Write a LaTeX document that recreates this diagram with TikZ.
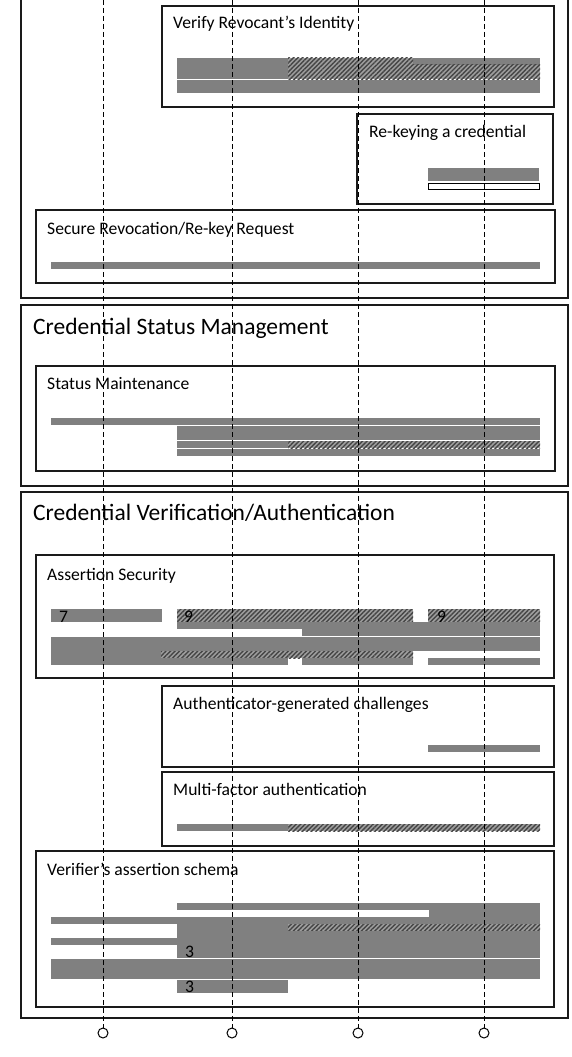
\documentclass[tikz,border=0pt]{standalone}
\usepackage{fontspec}
\setmainfont{Carlito}
\usetikzlibrary{patterns.meta}
\definecolor{barGray}{HTML}{808080}
\definecolor{hatchBg}{HTML}{9E9E9E}
\definecolor{hatchFg}{HTML}{454545}
\definecolor{frameCol}{HTML}{1A1A1A}
\begin{document}
\begin{tikzpicture}[x=1pt,y=-1pt,
  frame/.style={draw=frameCol, line width=1.1pt},
  solidbar/.style={fill=barGray},
  hatchbar/.style={fill=hatchBg, postaction={pattern={Lines[angle=45,distance=3.2pt,line width=1.4pt]}, pattern color=hatchFg}},
  lbl/.style={anchor=base west, inner sep=0pt, font=\fontsize{17.6}{20}\selectfont},
  ttl/.style={anchor=base west, inner sep=0pt, font=\fontsize{23.5}{27}\selectfont},
  num/.style={anchor=base west, inner sep=0pt, font=\fontsize{17.6}{20}\selectfont},
  lifeline/.style={draw=black, line width=1pt, dash pattern=on 5pt off 3pt},
  endcirc/.style={circle, draw=black, line width=1pt, fill=white, minimum size=10pt, inner sep=0pt}
]
\useasboundingbox (0,0) rectangle (571,1057);
\fill[white] (0,0) rectangle (571,1057);

% ---------- Section 1 (top, clipped) ----------
\draw[frame] (21,-2) -- (21,298) -- (568,298) -- (568,-2);
\draw[frame] (162,6) rectangle (554,107);
\node[lbl] (verify) at (173,29) {Verify Revocant’s Identity};
\path[solidbar] (177,58) rectangle (540,79);
\path[hatchbar] (288,58) rectangle (413,79);
\path[hatchbar] (413,65) rectangle (540,79);
\path[solidbar] (177,80) rectangle (540,93);

\draw[frame] (357,114) rectangle (553,204);
\node[lbl] (rekey) at (369,137) {Re-keying a credential};
\path[solidbar] (428,168) rectangle (539,181);
\draw[black, line width=0.8pt, fill=white] (428,183) rectangle (539,189);

\draw[frame] (36,210) rectangle (555,283);
\node[lbl] (secure) at (47,234) {Secure Revocation/Re-key Request};
\path[solidbar] (51,262) rectangle (540,269);

% ---------- Section 2 ----------
\draw[frame] (21,305) rectangle (568,486);
\node[ttl] (csm) at (33,334) {Credential Status Management};
\draw[frame] (36,366) rectangle (555,471);
\node[lbl] (statmaint) at (47,389) {Status Maintenance};
\path[solidbar] (51,418) rectangle (540,425);
\path[solidbar] (177,426) rectangle (540,440);
\path[solidbar] (177,441) rectangle (540,448);
\path[hatchbar] (288,441) rectangle (540,448);
\path[solidbar] (177,449) rectangle (540,456);

% ---------- Section 3 ----------
\draw[frame] (21,492) rectangle (568,1018);
\node[ttl] (cva) at (33,520) {Credential Verification/Authentication};

\draw[frame] (36,555) rectangle (554,678);
\node[lbl] (asec) at (47,580) {Assertion Security};
\path[solidbar] (51,609) rectangle (162,622);
\path[hatchbar] (177,609) rectangle (413,622);
\path[hatchbar] (428,609) rectangle (540,622);
\path[solidbar] (177,622) rectangle (540,629);
\path[solidbar] (302,629) rectangle (540,636);
\path[solidbar] (51,637) rectangle (540,651);
\path[solidbar] (51,651) rectangle (161,658);
\path[hatchbar] (161,651) rectangle (413,658);
\path[solidbar] (51,658) rectangle (288,665);
\path[solidbar] (302,658) rectangle (413,665);
\path[solidbar] (428,658) rectangle (540,665);
\node[num] (n7) at (59,622) {7};
\node[num] (n9a) at (184,622) {9};
\node[num] (n9b) at (437,622) {9};

\draw[frame] (162,686) rectangle (554,767);
\node[lbl] (authgen) at (173,709) {Authenticator-generated challenges};
\path[solidbar] (428,745) rectangle (540,752);

\draw[frame] (162,772) rectangle (554,846);
\node[lbl] (mfa) at (173,795) {Multi-factor authentication};
\path[solidbar] (177,824) rectangle (540,831);
\path[hatchbar] (288,824) rectangle (540,831);

\draw[frame] (36,851) rectangle (554,1007);
\node[lbl] (vschema) at (47,875) {Verifier’s assertion schema};
\path[solidbar] (177,903) rectangle (540,910);
\path[solidbar] (429,910) rectangle (540,917);
\path[solidbar] (51,917) rectangle (540,924);
\path[solidbar] (177,924) rectangle (540,931);
\path[hatchbar] (288,924) rectangle (540,931);
\path[solidbar] (177,931) rectangle (540,938);
\path[solidbar] (51,938) rectangle (540,945);
\path[solidbar] (177,945) rectangle (540,958);
\path[solidbar] (51,959) rectangle (540,979);
\path[solidbar] (177,980) rectangle (288,993);
\node[num] (n3a) at (185,957) {3};
\node[num] (n3b) at (185,992) {3};

% ---------- Lifelines ----------
\foreach \i/\x in {1/103,2/232,3/358,4/484} {
  \coordinate (top\i) at (\x,0);
  \node[endcirc] (end\i) at (\x,1033) {};
  \draw[lifeline] (top\i) -- (end\i);
}
\end{tikzpicture}
\end{document}
